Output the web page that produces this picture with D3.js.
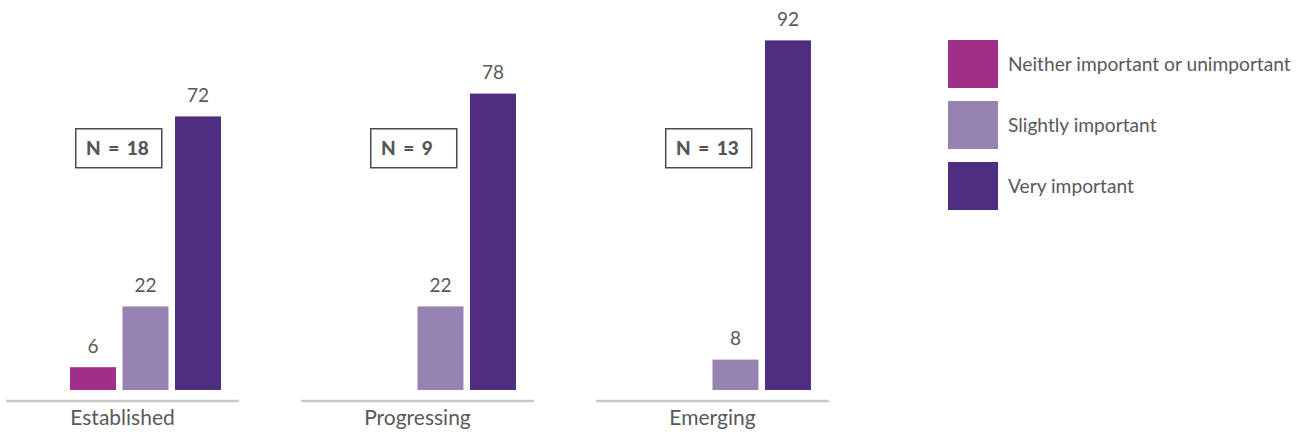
<!DOCTYPE html>
<html>
<head>
<meta charset="utf-8">
<script src="https://cdn.jsdelivr.net/npm/d3@7"></script>
<style>
  html, body { margin: 0; padding: 0; background: #fff; }
  svg { display: block; font-family: Lato, "Noto Sans", sans-serif; }
</style>
</head>
<body>
<svg id="chart" width="1305" height="435"></svg>
<script>
// Importance ratings (% of respondents) by maturity group
const categories = ["Established", "Progressing", "Emerging"];
const seriesNames = ["Neither important or unimportant", "Slightly important", "Very important"];
const neitherValues = [6, null, null];
const slightlyValues = [22, 22, 8];
const veryValues = [72, 78, 92];
const sampleSizes = [18, 9, 13];
const seriesColors = ["#a12f8a", "#9783b2", "#4f2e81"];

const seriesValues = [neitherValues, slightlyValues, veryValues];

const svg = d3.select("#chart");
const textColor = "#595959";

// Category bands (each with its own baseline segment)
const x0 = d3.scaleBand()
  .domain(categories)
  .range([6, 829])
  .paddingInner(0.21)
  .paddingOuter(0);

// Series bars inside each category
const x1 = d3.scaleBand()
  .domain(seriesNames)
  .range([64, 215])
  .paddingInner(0.124)
  .paddingOuter(0);

const y = d3.scaleLinear()
  .domain([0, 100])
  .range([390, 10]);

const color = d3.scaleOrdinal().domain(seriesNames).range(seriesColors);

const groups = svg.selectAll("g.cat")
  .data(categories)
  .join("g")
  .attr("class", "cat")
  .attr("transform", d => `translate(${x0(d)},0)`);

// Bars and value labels
groups.each(function (cat, ci) {
  const g = d3.select(this);
  const rows = seriesNames
    .map((s, si) => ({ series: s, value: seriesValues[si][ci] }))
    .filter(r => r.value != null);

  g.selectAll("rect.bar")
    .data(rows)
    .join("rect")
    .attr("class", "bar")
    .attr("x", d => x1(d.series))
    .attr("width", x1.bandwidth())
    .attr("y", d => y(d.value))
    .attr("height", d => y(0) - y(d.value))
    .attr("fill", d => color(d.series));

  g.selectAll("text.val")
    .data(rows)
    .join("text")
    .attr("class", "val")
    .attr("x", d => x1(d.series) + x1.bandwidth() / 2)
    .attr("y", d => y(d.value) - 14.5)
    .attr("text-anchor", "middle")
    .attr("font-size", 19)
    .attr("fill", textColor)
    .text(d => d.value);

  // Baseline segment
  g.append("line")
    .attr("x1", 0)
    .attr("x2", x0.bandwidth())
    .attr("y1", 401)
    .attr("y2", 401)
    .attr("stroke", "#c8c8c8")
    .attr("stroke-width", 2.5);

  // Category label
  g.append("text")
    .attr("x", x0.bandwidth() / 2)
    .attr("y", 425)
    .attr("text-anchor", "middle")
    .attr("font-size", 21)
    .attr("fill", textColor)
    .text(cat);

  // Sample size box
  const nb = g.append("g").attr("transform", "translate(69,128)");
  nb.append("rect")
    .attr("x", 0.75)
    .attr("y", 0.75)
    .attr("width", 86)
    .attr("height", 39)
    .attr("fill", "#fff")
    .attr("stroke", "#4a4a4a")
    .attr("stroke-width", 1.5);
  nb.append("text")
    .attr("x", 11)
    .attr("y", 26.5)
    .attr("font-size", 19)
    .attr("font-weight", 900)
    .attr("word-spacing", 3)
    .attr("fill", "#555")
    .text(`N = ${sampleSizes[ci]}`);
});

// Legend
const legend = svg.append("g").attr("transform", "translate(948,40)");
const items = legend.selectAll("g")
  .data(seriesNames)
  .join("g")
  .attr("transform", (d, i) => `translate(0,${i * 61})`);
items.append("rect")
  .attr("width", 50)
  .attr("height", 48)
  .attr("fill", d => color(d));
items.append("text")
  .attr("x", 60)
  .attr("y", 31)
  .attr("font-size", 19.2)
  .attr("fill", textColor)
  .text(d => d);
</script>
</body>
</html>
